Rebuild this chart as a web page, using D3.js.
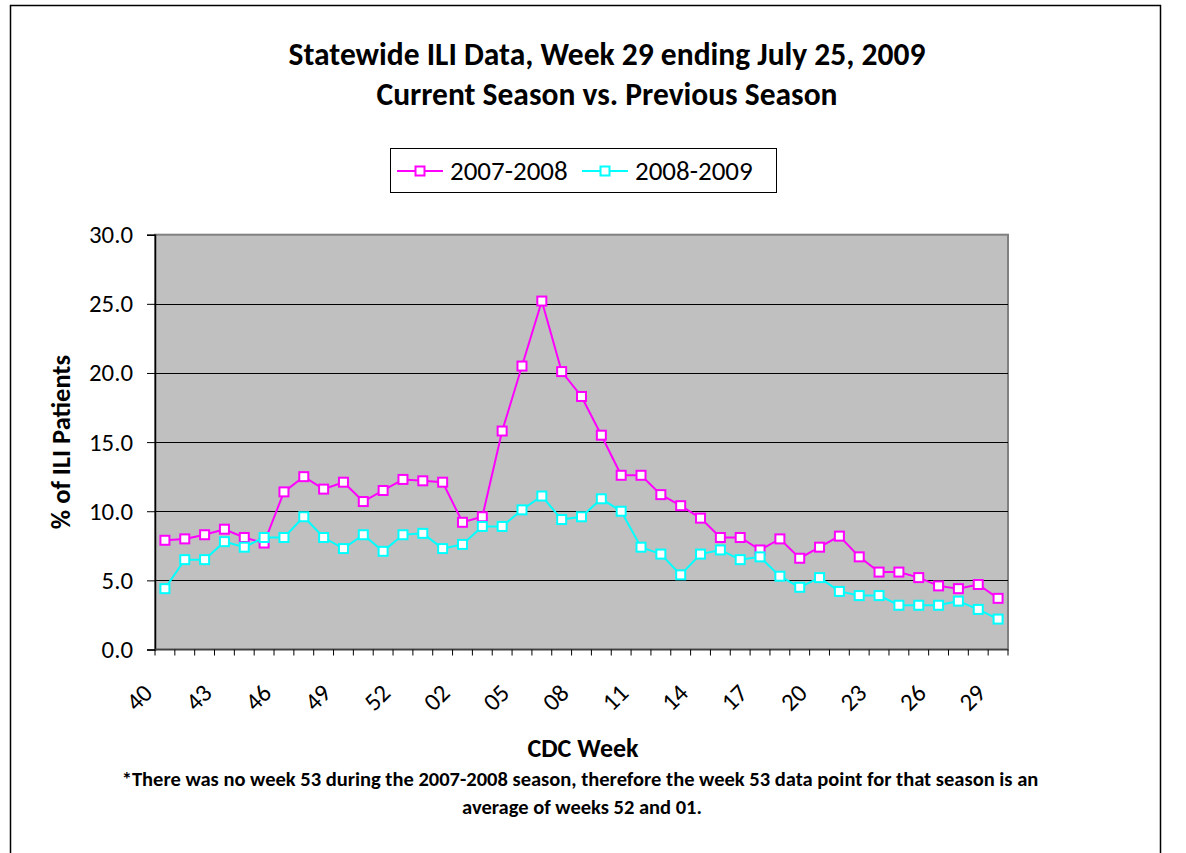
<!DOCTYPE html>
<html>
<head>
<meta charset="utf-8">
<script src="https://cdn.jsdelivr.net/npm/d3@7"></script>
<style>
    body { margin: 0; background: white; }
    text { font-family: Carlito, Calibri, Lato, sans-serif; fill: black; }
</style>
</head>
<body>
<div id="chart"></div>
<script>
// weeks 40..53 then 01..29
weeks = ["40","41","42","43","44","45","46","47","48","49","50","51","52","53",
    "01","02","03","04","05","06","07","08","09","10","11","12","13","14","15",
    "16","17","18","19","20","21","22","23","24","25","26","27","28","29"];

season0708 = [7.9, 8.0, 8.3, 8.7, 8.1, 7.7, 11.4, 12.5, 11.6, 12.1, 10.7, 11.5, 12.3, 12.2, 12.1,
    9.2, 9.6, 15.8, 20.5, 25.2, 20.1, 18.3, 15.5, 12.6, 12.6, 11.2, 10.4, 9.5, 8.1, 8.1,
    7.2, 8.0, 6.6, 7.4, 8.2, 6.7, 5.6, 5.6, 5.2, 4.6, 4.4, 4.7, 3.7];

season0809 = [4.4, 6.5, 6.5, 7.8, 7.4, 8.1, 8.1, 9.6, 8.1, 7.3, 8.3, 7.1, 8.3, 8.4, 7.3,
    7.6, 8.9, 8.9, 10.1, 11.1, 9.4, 9.6, 10.9, 10.0, 7.4, 6.9, 5.4, 6.9, 7.2, 6.5,
    6.7, 5.3, 4.5, 5.2, 4.2, 3.9, 3.9, 3.2, 3.2, 3.2, 3.5, 2.9, 2.2];

seriesNames = ["2007-2008", "2008-2009"];
seriesColors = ["#FF00FF", "#00FFFF"];
yTicks = [0, 5, 10, 15, 20, 25, 30];

width = 1186;
height = 853;
plotLeft = 155;
plotRight = 1008;
plotTop = 234.7;
plotBottom = 649.5;

svg = d3.select("#chart")
    .append("svg")
    .attr("width", width)
    .attr("height", height);

// outer frame
svg.append("rect")
    .attr("x", 10.5)
    .attr("y", 5.5)
    .attr("width", 1150)
    .attr("height", 860)
    .style("fill", "white")
    .style("stroke", "black")
    .style("stroke-width", 1.5);

x = d3.scaleBand()
    .domain(d3.range(weeks.length))
    .range([plotLeft, plotRight]);

y = d3.scaleLinear()
    .domain([0, 30])
    .range([plotBottom, plotTop]);

// plot area
svg.append("rect")
    .attr("x", plotLeft)
    .attr("y", plotTop)
    .attr("width", plotRight - plotLeft)
    .attr("height", plotBottom - plotTop)
    .style("fill", "#C0C0C0")
    .style("stroke", "#808080")
    .style("stroke-width", 2);

// gridlines
svg.append("g")
    .selectAll("line")
    .data(yTicks.filter(function(d) { return d > 0 && d < 30; }))
    .enter()
    .append("line")
    .attr("x1", plotLeft)
    .attr("x2", plotRight)
    .attr("y1", function(d) { return Math.round(y(d)) + 0.5; })
    .attr("y2", function(d) { return Math.round(y(d)) + 0.5; })
    .style("stroke", "black")
    .style("stroke-width", 1.2);

// y axis
yAxis = d3.axisLeft(y)
    .tickValues(yTicks)
    .tickSize(8)
    .tickPadding(14)
    .tickFormat(d3.format(".1f"));

gy = svg.append("g")
    .attr("transform", "translate(" + plotLeft + ",0)")
    .call(yAxis);
gy.select(".domain").style("stroke", "black").style("stroke-width", 1.5);
gy.selectAll(".tick line").style("stroke", "black");
gy.selectAll(".tick text")
    .style("font-size", "24.8px")
    .style("font-family", "Carlito, Calibri, Lato, sans-serif");

// x axis: ticks at category boundaries, labels every third week
gx = svg.append("g")
    .attr("transform", "translate(0," + plotBottom + ")");

gx.append("line")
    .attr("x1", plotLeft)
    .attr("x2", plotRight)
    .style("stroke", "#404040")
    .style("stroke-width", 1.5);

gx.selectAll(".xtick")
    .data(d3.range(weeks.length + 1))
    .enter()
    .append("line")
    .attr("class", "xtick")
    .attr("x1", function(i) { return plotLeft + i * x.step(); })
    .attr("x2", function(i) { return plotLeft + i * x.step(); })
    .attr("y1", 0)
    .attr("y2", 6)
    .style("stroke", "black");

gx.selectAll(".xlabel")
    .data(d3.range(0, weeks.length, 3))
    .enter()
    .append("text")
    .attr("class", "xlabel")
    .attr("text-anchor", "end")
    .attr("transform", function(i) {
        return "translate(" + (x(i) + x.bandwidth() / 2 - 11) + ",45) rotate(-45)";
    })
    .style("font-size", "24.8px")
    .text(function(i) { return weeks[i]; });

// lines and markers
line = d3.line()
    .x(function(d, i) { return x(i) + x.bandwidth() / 2; })
    .y(function(d) { return y(d); });

allSeries = [season0708, season0809];

allSeries.forEach(function(vals, s) {
    svg.append("path")
        .datum(vals)
        .attr("d", line)
        .style("fill", "none")
        .style("stroke", seriesColors[s])
        .style("stroke-width", 2);

    svg.append("g")
        .selectAll("rect")
        .data(vals)
        .enter()
        .append("rect")
        .attr("x", function(d, i) { return x(i) + x.bandwidth() / 2 - 4.5; })
        .attr("y", function(d) { return y(d) - 4.5; })
        .attr("width", 9)
        .attr("height", 9)
        .style("fill", "white")
        .style("stroke", seriesColors[s])
        .style("stroke-width", 2);
});

// titles
svg.append("text")
    .attr("x", 607)
    .attr("y", 65)
    .attr("text-anchor", "middle")
    .style("font-size", "31.5px")
    .style("font-weight", "bold")
    .text("Statewide ILI Data, Week 29 ending July 25, 2009");

svg.append("text")
    .attr("x", 607)
    .attr("y", 105)
    .attr("text-anchor", "middle")
    .style("font-size", "31.5px")
    .style("font-weight", "bold")
    .text("Current Season vs. Previous Season");

svg.append("text")
    .attr("transform", "translate(70,442) rotate(-90)")
    .attr("text-anchor", "middle")
    .style("font-size", "26.5px")
    .style("font-weight", "bold")
    .text("% of ILI Patients");

svg.append("text")
    .attr("x", 583)
    .attr("y", 757)
    .attr("text-anchor", "middle")
    .style("font-size", "26px")
    .style("font-weight", "bold")
    .text("CDC Week");

svg.append("text")
    .attr("x", 580)
    .attr("y", 786)
    .attr("text-anchor", "middle")
    .style("font-size", "20.5px")
    .style("font-weight", "bold")
    .text("*There was no week 53 during the 2007-2008 season, therefore the week 53 data point for that season is an");

svg.append("text")
    .attr("x", 582)
    .attr("y", 814)
    .attr("text-anchor", "middle")
    .style("font-size", "20.5px")
    .style("font-weight", "bold")
    .text("average of weeks 52 and 01.");

// legend
legend = svg.append("g");
legend.append("rect")
    .attr("x", 390.5)
    .attr("y", 148.5)
    .attr("width", 386)
    .attr("height", 44)
    .style("fill", "white")
    .style("stroke", "black");

legendX = [397, 582];
seriesNames.forEach(function(name, s) {
    legend.append("line")
        .attr("x1", legendX[s])
        .attr("x2", legendX[s] + 46)
        .attr("y1", 171)
        .attr("y2", 171)
        .style("stroke", seriesColors[s])
        .style("stroke-width", 2);
    legend.append("rect")
        .attr("x", legendX[s] + 18.5)
        .attr("y", 166.5)
        .attr("width", 9)
        .attr("height", 9)
        .style("fill", "white")
        .style("stroke", seriesColors[s])
        .style("stroke-width", 2);
    legend.append("text")
        .attr("x", legendX[s] + 53)
        .attr("y", 180)
        .style("font-size", "27px")
        .text(name);
});
</script>
</body>
</html>
